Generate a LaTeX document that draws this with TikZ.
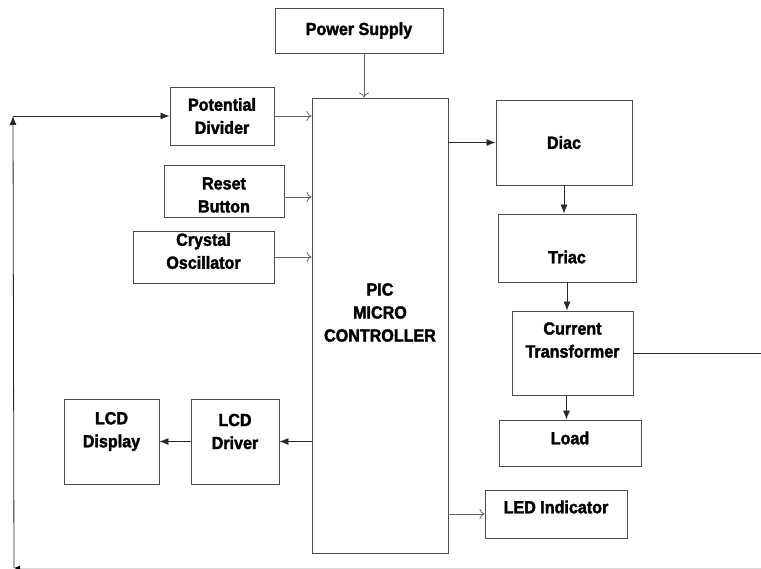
\documentclass[tikz,border=0pt]{standalone}
\usepackage{fontspec}
\setmainfont{Liberation Sans}[FakeStretch=0.92, BoldFeatures={FakeBold=2}]
\usetikzlibrary{arrows.meta}

\tikzset{
  blk/.style={draw=black!70, line width=0.9pt, inner sep=0pt},
  txt/.style={font=\bfseries\fontsize{17.5}{23}\selectfont, align=center, inner sep=0pt},
  oarr/.style={draw=black!60, line width=0.8pt, -{To[length=5pt,width=10pt]}},
  farr/.style={draw=black!85, line width=0.8pt, -{Latex[length=9pt,width=7pt]}},
}

\begin{document}
\begin{tikzpicture}[x=1pt, y=-1pt]
  \useasboundingbox (0,0) rectangle (761,569);

  % input side
  \node[blk, minimum width=168, minimum height=45, label={[txt]center:Power Supply}] (ps) at (359,30.5) {};
  \node[blk, minimum width=104, minimum height=58, label={[txt]center:{Potential\\Divider}}] (pd) at (222,116) {};
  \node[blk, minimum width=120, minimum height=52, label={[txt,yshift=-4]center:{Reset\\Button}}] (rb) at (224,191) {};
  \node[blk, minimum width=141, minimum height=52, label={[txt,yshift=6]center:{Crystal\\Oscillator}}] (co) at (203.5,257) {};

  % controller
  \node[blk, minimum width=136, minimum height=455, label={[txt,yshift=13]center:{PIC\\MICRO\\CONTROLLER}}] (pic) at (380,325.5) {};

  % output side
  \node[blk, minimum width=136, minimum height=85, label={[txt]center:Diac}] (diac) at (564,142.5) {};
  \node[blk, minimum width=138, minimum height=68, label={[txt,yshift=-9]center:Triac}] (triac) at (567,248) {};
  \node[blk, minimum width=121, minimum height=84, label={[txt,yshift=13]center:{Current\\Transformer}}] (ct) at (572.5,353) {};
  \node[blk, minimum width=142, minimum height=46, label={[txt,yshift=5]center:Load}] (load) at (570,443) {};
  \node[blk, minimum width=142, minimum height=48, label={[txt,yshift=7]center:LED Indicator}] (led) at (556,514) {};

  % display
  \node[blk, minimum width=88, minimum height=85, label={[txt,yshift=10]center:{LCD\\Driver}}] (drv) at (235,441.5) {};
  \node[blk, minimum width=95, minimum height=85, label={[txt,yshift=10]center:{LCD\\Display}}] (disp) at (111.5,441.5) {};

  % feedback path
  \coordinate (fbR) at (761,353);
  \coordinate (botR) at (761,568);
  \coordinate (botL) at (14,568);
  \coordinate (topL) at (13,116);

  % connections
  \draw[oarr] ([xshift=5]ps.south) -- ([xshift=5]ps.south |- pic.north);
  \draw[oarr] (pd.east) -- (pd.east -| pic.west);
  \draw[oarr] ([yshift=-6]rb.east) -- ([yshift=-6]rb.east -| pic.west);
  \draw[oarr] (co.east) -- (co.east -| pic.west);
  \draw[farr] (pic.east |- diac.west) -- (diac.west);
  \draw[farr] (diac.south) -- (diac.south |- triac.north);
  \draw[farr] (triac.south) -- (triac.south |- ct.north);
  \draw[farr] ([xshift=-6]ct.south) -- ([xshift=-6]ct.south |- load.north);
  \draw[oarr] (pic.east |- led.west) -- (led.west);
  \draw[farr] (pic.west |- drv.east) -- (drv.east);
  \draw[farr] (drv.west) -- (disp.east);

  \draw[black!85, line width=0.8pt] (ct.east) -- (fbR);
  \draw[black!15, line width=0.8pt, -{Latex[black,length=6pt,width=5pt]}] (botR) -- (botL);
  \draw[farr] (botL) -- (topL);
  \draw[farr] (topL) -- (pd.west);
\end{tikzpicture}
\end{document}
